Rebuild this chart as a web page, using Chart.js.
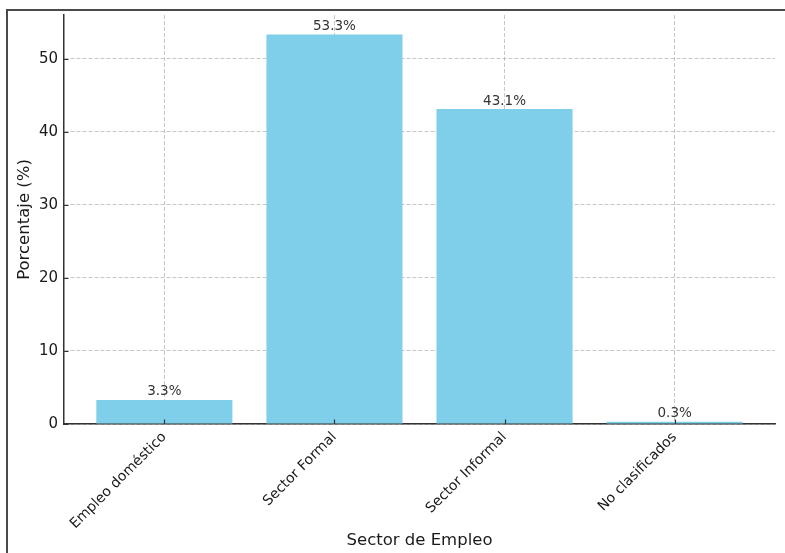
<!DOCTYPE html>
<html>
<head>
<meta charset="utf-8">
<script src="https://cdn.jsdelivr.net/npm/chart.js@4"></script>
<style>
  html, body { margin: 0; padding: 0; background: #fff; }
  #wrap { position: relative; width: 785px; height: 553px; }
  #frame { position: absolute; left: 6px; top: 9px; right: 0; bottom: 0;
           border-top: 2px solid #4a4a4a; border-left: 2px solid #4a4a4a; pointer-events: none; }
  canvas { position: absolute; left: 0; top: 0; }
</style>
</head>
<body>
<div id="wrap">
  <canvas id="chart" width="785" height="553"></canvas>
  <div id="frame"></div>
</div>
<script>
const categories = ['Empleo doméstico', 'Sector Formal', 'Sector Informal', 'No clasificados'];
const percentages = [3.3, 53.3, 43.1, 0.3];
const yTicks = [0, 10, 20, 30, 40, 50];

const FONT = "'DejaVu Sans', sans-serif";

// value labels on top of each bar
const valueLabels = {
  id: 'valueLabels',
  afterDatasetsDraw(chart) {
    const ctx = chart.ctx;
    const meta = chart.getDatasetMeta(0);
    ctx.save();
    ctx.font = '13.5px ' + FONT;
    ctx.fillStyle = '#333';
    ctx.textAlign = 'center';
    ctx.textBaseline = 'alphabetic';
    meta.data.forEach((bar, i) => {
      ctx.fillText(percentages[i] + '%', bar.x, bar.y - 4.5);
    });
    ctx.restore();
  }
};

// matplotlib-like inward tick marks
const inwardTicks = {
  id: 'inwardTicks',
  afterDraw(chart) {
    const ctx = chart.ctx;
    const { x, y } = chart.scales;
    ctx.save();
    ctx.strokeStyle = '#333';
    ctx.lineWidth = 1.2;
    ctx.beginPath();
    x.ticks.forEach(t => {
      const px = Math.round(x.getPixelForValue(t.value)) + 0.5;
      ctx.moveTo(px, y.bottom);
      ctx.lineTo(px, y.bottom - 4.5);
    });
    y.ticks.forEach(t => {
      const py = Math.round(y.getPixelForValue(t.value)) + 0.5;
      ctx.moveTo(x.left, py);
      ctx.lineTo(x.left + 4.5, py);
    });
    ctx.stroke();
    ctx.restore();
  }
};

const gridColor = 'rgba(150,150,150,0.6)';

new Chart(document.getElementById('chart').getContext('2d'), {
  type: 'bar',
  data: {
    datasets: [{
      data: percentages.map((v, i) => ({ x: i, y: v })),
      backgroundColor: '#7fcfea',
      borderWidth: 0,
      barPercentage: 0.8,
      categoryPercentage: 1
    }]
  },
  options: {
    responsive: false,
    animation: false,
    layout: { padding: { left: 8, top: 13, right: 10, bottom: 0 } },
    plugins: {
      legend: { display: false },
      tooltip: { enabled: false }
    },
    scales: {
      x: {
        type: 'linear',
        min: -0.59,
        max: 3.59,
        offset: false,
        z: 1,
        afterBuildTicks: s => { s.ticks = categories.map((c, i) => ({ value: i })); },
        afterFit: s => { s.height = 129; },
        ticks: {
          autoSkip: false,
          minRotation: 45,
          maxRotation: 45,
          padding: 5,
          color: '#1a1a1a',
          font: { family: FONT, size: 14 },
          callback: v => categories[v]
        },
        grid: {
          offset: false,
          color: gridColor,
          lineWidth: 0.9,
          drawTicks: false
        },
        border: { display: true, color: '#333', width: 1.5, dash: [4, 2] },
        title: {
          display: true,
          text: 'Sector de Empleo',
          color: '#1a1a1a',
          font: { family: FONT, size: 16.5 },
          padding: { top: 4, bottom: 2 }
        }
      },
      y: {
        min: 0,
        max: 55.97,
        z: 1,
        afterBuildTicks: s => { s.ticks = yTicks.map(v => ({ value: v })); },
        afterFit: s => { s.width = 56; },
        ticks: {
          padding: 6,
          color: '#1a1a1a',
          font: { family: FONT, size: 15 }
        },
        grid: {
          color: gridColor,
          lineWidth: 0.9,
          drawTicks: false
        },
        border: { display: true, color: '#333', width: 1.5, dash: [4, 2] },
        title: {
          display: true,
          text: 'Porcentaje (%)',
          color: '#1a1a1a',
          font: { family: FONT, size: 16.5 },
          padding: { top: 7, bottom: 4 }
        }
      }
    }
  },
  plugins: [valueLabels, inwardTicks]
});
</script>
</body>
</html>
